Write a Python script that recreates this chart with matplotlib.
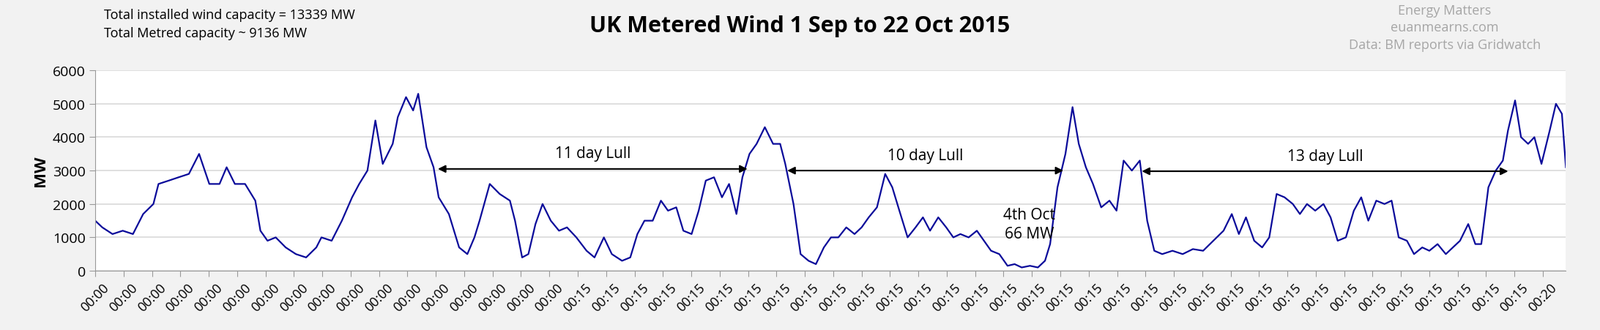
import matplotlib
matplotlib.use("Agg")
import matplotlib.pyplot as plt

# Zeit in Tagen ab 1 Sep 2015 00:00, Werte in MW
days = [0, .25, .61, .97, 1.33, 1.69, 2.05, 2.23, 2.59, 2.94, 3.30, 3.66, 4.02, 4.38, 4.63, 4.92,
        5.28, 5.64, 5.82, 6.07, 6.36, 6.71, 7.07, 7.43, 7.79, 7.97, 8.33, 8.69, 9.05, 9.30, 9.59,
        9.87, 10.13, 10.48, 10.66, 10.95, 11.20, 11.38, 11.67, 11.92, 12.10, 12.46, 12.82, 13.11,
        13.36, 13.54, 13.90, 14.25, 14.61, 14.79, 15.04, 15.26, 15.51, 15.76, 16.05, 16.34, 16.62,
        16.95, 17.31, 17.59, 17.92, 18.20, 18.56, 18.85, 19.10, 19.35, 19.64, 19.93, 20.18, 20.47,
        20.72, 21.01, 21.26, 21.51, 21.80, 22.08, 22.33, 22.59, 22.80, 23.05, 23.30, 23.59, 23.88,
        24.13, 24.31, 24.60, 24.85, 25.13, 25.39, 25.67, 25.92, 26.18, 26.46, 26.75, 27.00, 27.25,
        27.54, 27.83, 28.08, 28.33, 28.62, 28.90, 29.16, 29.41, 29.70, 29.98, 30.23, 30.48, 30.77,
        31.06, 31.31, 31.56, 31.85, 32.14, 32.39, 32.64, 32.93, 33.21, 33.46, 33.64, 33.90, 34.18,
        34.43, 34.65, 34.90, 35.15, 35.44, 35.73, 35.98, 36.23, 36.52, 36.80, 37.06, 37.31, 37.59,
        37.95, 38.31, 38.67, 39.03, 39.39, 39.75, 40.04, 40.29, 40.54, 40.83, 41.11, 41.36, 41.62,
        41.90, 42.19, 42.44, 42.69, 42.98, 43.27, 43.52, 43.77, 44.06, 44.34, 44.60, 44.85, 45.13,
        45.42, 45.67, 45.92, 46.21, 46.46, 46.75, 47.00, 47.29, 47.58, 47.83, 48.08, 48.37, 48.62,
        48.83, 49.08, 49.34, 49.59, 49.77, 50.02, 50.23, 50.48, 50.70, 50.95, 51.24, 51.46, 51.67,
        51.81]
mw = [1500, 1300, 1100, 1200, 1100, 1700, 2000, 2600, 2700, 2800, 2900, 3500, 2600, 2600, 3100, 2600,
      2600, 2100, 1200, 900, 1000, 700, 500, 400, 700, 1000, 900, 1500, 2200, 2600, 3000,
      4500, 3200, 3800, 4600, 5200, 4800, 5300, 3700, 3100, 2200, 1700, 700, 500,
      1000, 1500, 2600, 2300, 2100, 1500, 400, 500, 1400, 2000, 1500, 1200, 1300,
      1000, 600, 400, 1000, 500, 300, 400, 1100, 1500, 1500, 2100, 1800, 1900,
      1200, 1100, 1800, 2700, 2800, 2200, 2600, 1700, 2800, 3500, 3800, 4300, 3800,
      3800, 3200, 2000, 500, 300, 200, 700, 1000, 1000, 1300, 1100, 1300, 1600,
      1900, 2900, 2500, 1800, 1000, 1300, 1600, 1200, 1600, 1300, 1000, 1100, 1000,
      1200, 900, 600, 500, 150, 200, 100, 150, 100, 300, 800, 2500, 3500,
      4900, 3800, 3100, 2600, 1900, 2100, 1800, 3300, 3000, 3300, 1500, 600, 500,
      600, 500, 650, 600, 900, 1200, 1700, 1100, 1600, 900, 700, 1000, 2300,
      2200, 2000, 1700, 2000, 1800, 2000, 1600, 900, 1000, 1800, 2200, 1500, 2100,
      2000, 2100, 1000, 900, 500, 700, 600, 800, 500, 700, 900, 1400, 800,
      800, 2500, 3000, 3300, 4200, 5100, 4000, 3800, 4000, 3200, 4200, 5000, 4700,
      3100]

tick_labels = ["00:00"] * 17 + ["00:15"] * 34 + ["00:20"]

# Flauten: (Start, Ende, Hoehe, Text)
lulls = [(12.0, 23.05, 3050, "11 day Lull"),
         (24.31, 34.18, 3000, "10 day Lull"),
         (36.80, 49.85, 2980, "13 day Lull")]

plt.rcParams["font.family"] = "Open Sans"
fig = plt.figure(figsize=(21.85, 4.52), dpi=100, facecolor="#f2f2f2")
ax = fig.add_axes([0.0595, 0.179, 0.919, 0.606])
ax.set_facecolor("white")
ax.plot(days, mw, color="#0a0a9a", lw=1.6)

ax.set_xlim(0, 51.8)
ax.set_ylim(0, 6000)
ax.set_yticks(range(0, 6001, 1000))
ax.set_xticks(range(len(tick_labels)))
ax.set_xticklabels(tick_labels, rotation=45, fontsize=13)
ax.tick_params(axis="y", labelsize=14)
ax.tick_params(length=6, color="#999999")
ax.grid(axis="y", color="#d9d9d9", lw=1.2)
ax.set_axisbelow(True)
for s in ["top", "right"]:
    ax.spines[s].set_visible(False)
ax.spines["left"].set_color("#999999")
ax.spines["bottom"].set_color("#999999")
ax.set_ylabel("MW", fontsize=16, fontweight="bold")

for x0, x1, y, txt in lulls:
    ax.annotate("", xy=(x1, y), xytext=(x0, y),
                arrowprops=dict(arrowstyle="<|-|>", color="black", lw=1.5, mutation_scale=15))
    ax.text((x0 + x1) / 2, y + 230, txt, ha="center", va="bottom", fontsize=15)

ax.text(32.9, 1400, "4th Oct\n66 MW", ha="center", va="center", fontsize=15, linespacing=1.3)

fig.text(0.5, 0.92, "UK Metered Wind 1 Sep to 22 Oct 2015", ha="center", va="center",
         fontsize=22, fontweight="bold")
fig.text(0.065, 0.925, "Total installed wind capacity = 13339 MW\nTotal Metred capacity ~ 9136 MW",
         ha="left", va="center", fontsize=13, linespacing=1.5)
fig.text(0.903, 0.915, "Energy Matters\neuanmearns.com\nData: BM reports via Gridwatch",
         ha="center", va="center", fontsize=13, color="#a6a6a6", linespacing=1.4)

fig.savefig("out.png", dpi=100, facecolor=fig.get_facecolor())
